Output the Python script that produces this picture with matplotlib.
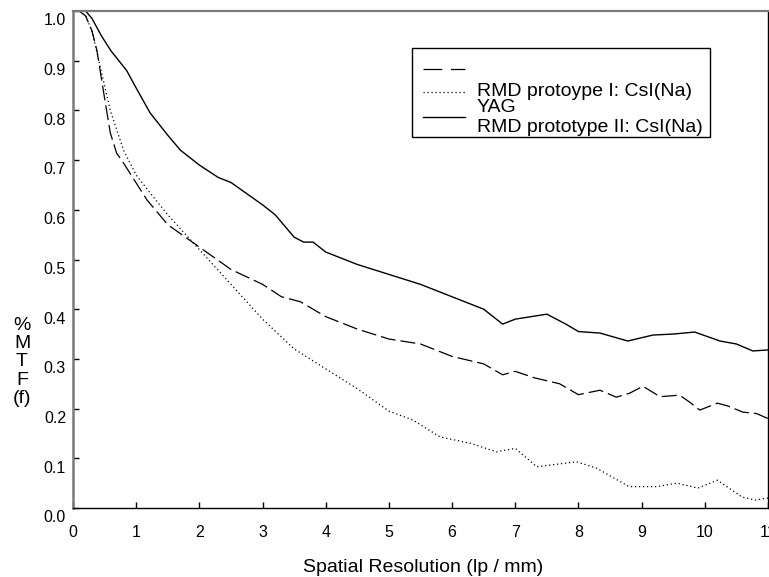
import matplotlib
matplotlib.use("Agg")
import matplotlib.pyplot as plt
from matplotlib.lines import Line2D
from matplotlib.patches import Rectangle
import matplotlib.transforms as mtransforms

plt.rcParams["font.family"] = ["Liberation Sans", "DejaVu Sans"]

# RMD prototype II: CsI(Na) (solid)
x_proto2 = [0.1, 0.2, 0.3, 0.45, 0.6, 0.85, 1.0, 1.22, 1.5, 1.7, 2.0, 2.3, 2.5, 2.8,
            3.0, 3.2, 3.5, 3.65, 3.8, 4.0, 4.5, 5.0, 5.5, 6.0, 6.5, 6.8, 7.0, 7.5,
            7.8, 8.0, 8.34, 8.78, 9.18, 9.5, 9.84, 10.24, 10.5, 10.76, 11.0]
y_proto2 = [1.0, 1.0, 0.985, 0.95, 0.92, 0.88, 0.845, 0.795, 0.75, 0.72, 0.69, 0.665,
            0.655, 0.628, 0.61, 0.59, 0.545, 0.535, 0.535, 0.515, 0.49, 0.47, 0.45,
            0.425, 0.40, 0.37, 0.38, 0.39, 0.37, 0.355, 0.352, 0.336, 0.348, 0.350,
            0.354, 0.336, 0.33, 0.316, 0.318]

# RMD protoype I: CsI(Na) (dashed)
x_proto1 = [0.1, 0.2, 0.3, 0.38, 0.48, 0.59, 0.69, 0.8, 1.0, 1.17, 1.5, 2.0, 2.5, 3.0,
            3.3, 3.6, 4.0, 4.5, 5.0, 5.5, 6.0, 6.5, 6.8, 7.0, 7.3, 7.7, 8.0, 8.34,
            8.6, 8.81, 9.02, 9.29, 9.6, 9.76, 9.92, 10.2, 10.37, 10.6, 10.82, 11.0]
y_proto1 = [1.0, 0.99, 0.96, 0.92, 0.84, 0.755, 0.714, 0.694, 0.654, 0.62, 0.57, 0.525,
            0.48, 0.45, 0.425, 0.415, 0.385, 0.36, 0.34, 0.33, 0.305, 0.29, 0.268,
            0.275, 0.262, 0.25, 0.228, 0.237, 0.223, 0.231, 0.245, 0.224, 0.227,
            0.213, 0.197, 0.211, 0.205, 0.193, 0.19, 0.18]

# YAG (dotted)
x_yag = [0.1, 0.2, 0.3, 0.43, 0.59, 0.8, 1.0, 1.22, 1.5, 2.0, 2.5, 3.0, 3.5, 4.0, 4.5,
         5.0, 5.38, 5.81, 6.3, 6.7, 7.0, 7.34, 7.97, 8.29, 8.8, 9.24, 9.56, 9.89,
         10.2, 10.59, 10.8, 11.0]
y_yag = [1.0, 0.99, 0.96, 0.888, 0.80, 0.72, 0.67, 0.634, 0.59, 0.52, 0.45, 0.38, 0.32,
         0.28, 0.24, 0.195, 0.177, 0.143, 0.13, 0.113, 0.12, 0.083, 0.093, 0.08,
         0.043, 0.043, 0.05, 0.04, 0.056, 0.022, 0.016, 0.02]

x_ticks = list(range(0, 12))
y_ticks = [round(0.1 * i, 1) for i in range(11)]

fig = plt.figure(figsize=(7.69, 5.77), dpi=100)
ax = fig.add_axes([73 / 769, 69 / 577, 695 / 769, 497 / 577])

ax.plot(x_proto1, y_proto1, color="black", lw=0.9, dashes=(12, 4))
ax.plot(x_yag, y_yag, color="black", lw=0.9, dashes=(1, 2.2))
ax.plot(x_proto2, y_proto2, color="black", lw=1.0)

ax.set_xlim(0, 11)
ax.set_ylim(0, 1.0)
ax.set_xticks(x_ticks)
ax.set_xticklabels([str(t) for t in x_ticks])
ax.set_yticks(y_ticks)
ax.set_yticklabels([f"{t:.1f}" for t in y_ticks])
ax.tick_params(direction="in", length=4, width=1, labelsize=11.5)
ax.tick_params(axis="x", pad=12)
ax.tick_params(axis="y", pad=5)

# y tick labels sit a little below their ticks
offset = mtransforms.ScaledTranslation(0, -6 / 72, fig.dpi_scale_trans)
for lab in ax.get_yticklabels():
    lab.set_transform(lab.get_transform() + offset)

ax.spines["left"].set_color("#7a7a7a")
ax.spines["left"].set_linewidth(1.8)
ax.spines["top"].set_color("#7a7a7a")
ax.spines["top"].set_linewidth(1.6)
ax.spines["bottom"].set_linewidth(1.0)
ax.spines["right"].set_linewidth(1.0)

fig.text(423 / 769, 1 - 568 / 577, "Spatial Resolution (lp / mm)",
         fontsize=14, ha="center", va="center")
fig.text(22 / 769, 1 - 362 / 577, "%\nM\nT\nF\n(f)", fontsize=14, ha="center",
         va="center", linespacing=1.1)

# legend drawn by hand to keep its odd layout
fig.patches.append(Rectangle((412 / 769, 1 - 137 / 577), 298 / 769, 89 / 577,
                             transform=fig.transFigure, fill=False, ec="black",
                             lw=1.0))
fig.lines.append(Line2D([423 / 769, 465 / 769], [1 - 69 / 577] * 2,
                        transform=fig.transFigure, color="black", lw=0.9,
                        dashes=(15, 7)))
fig.lines.append(Line2D([423 / 769, 465 / 769], [1 - 92 / 577] * 2,
                        transform=fig.transFigure, color="black", lw=0.9,
                        dashes=(1, 2.2)))
fig.lines.append(Line2D([423 / 769, 465 / 769], [1 - 117 / 577] * 2,
                        transform=fig.transFigure, color="black", lw=1.0))
fig.text(477 / 769, 1 - 91 / 577, "RMD protoype I: CsI(Na)", fontsize=14, va="center")
fig.text(477 / 769, 1 - 107 / 577, "YAG", fontsize=14, va="center")
fig.text(477 / 769, 1 - 128 / 577, "RMD prototype II: CsI(Na)", fontsize=14,
         va="center")

fig.savefig("out.png", dpi=100)
